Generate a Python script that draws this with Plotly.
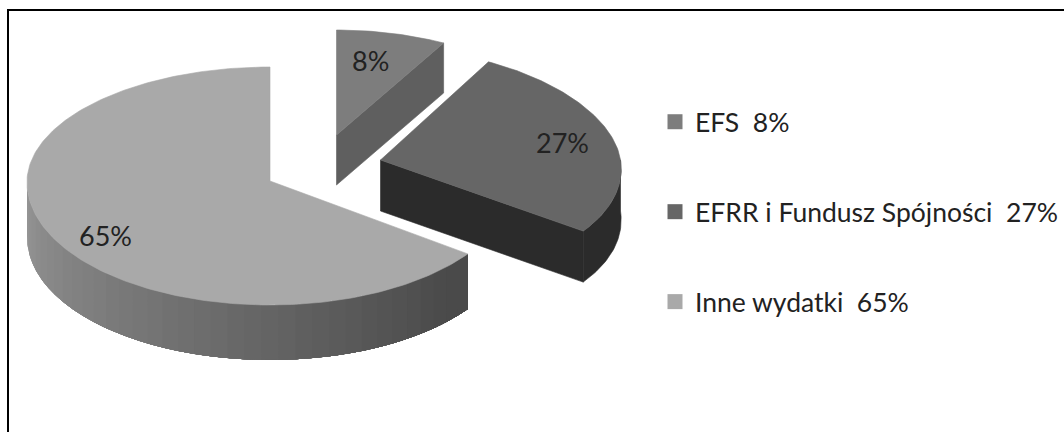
import math
import plotly.graph_objects as go

# ---- data ----
categories = ["EFS", "EFRR i Fundusz Spójności", "Inne wydatki"]
values = [8, 27, 65]

# ---- styles / layout ----
W, H = 1064, 432
TOP_COLORS = ["#7d7d7d", "#666666", "#a9a9a9"]
SIDE_COLORS = ["#5f5f5f", "#2b2b2b", None]
GEOM = [
    dict(ax=336.5, ay=135, rx=238, up=105, dn=115, k=0.075, depth=50),
    dict(ax=380.5, ay=160, rx=240, up=112, dn=121, k=0.075, depth=51),
    dict(ax=270.0, ay=181, rx=243, up=114, dn=124, k=0.01, depth=55),
]
LABEL_POS = [(370, 60), (562, 142), (105, 235)]
FONT = "Lato"
TXT = "#222222"


def rim(g, deg):
    t = math.radians(deg)
    c, s = math.cos(t), math.sin(t)
    x = g["ax"] + g["rx"] * s * (1 - g["k"] * c)
    y = g["ay"] - c * (g["up"] if c > 0 else g["dn"])
    return x, y


def arc(g, a, b, n=None):
    n = n or max(2, int(abs(b - a)))
    return [rim(g, a + (b - a) * i / n) for i in range(n + 1)]


def poly(fig, pts, color, width=0.6):
    fig.add_trace(go.Scatter(
        x=[p[0] for p in pts] + [pts[0][0]],
        y=[p[1] for p in pts] + [pts[0][1]],
        mode="lines", fill="toself", fillcolor=color,
        line=dict(color=color, width=width),
        hoverinfo="skip", showlegend=False))


fig = go.Figure()
total = sum(values)
start = 0.0
for i, v in enumerate(values):
    end = start + 360.0 * v / total
    g = GEOM[i]
    d = g["depth"]
    apex = (g["ax"], g["ay"])
    if SIDE_COLORS[i]:
        # cut face running from the apex to the end of the arc
        e = rim(g, end)
        poly(fig, [apex, e, (e[0], e[1] + d), (apex[0], apex[1] + d)], SIDE_COLORS[i])
        if end > 90:
            a = arc(g, max(start, 90), end)
            poly(fig, a + [(p[0], p[1] + d) for p in reversed(a)], SIDE_COLORS[i])
    else:
        # outer wall with a horizontal shading ramp; bands overlap so no seams show
        lo, hi = max(start, 90), 270.0
        n = 36
        for j in range(n):
            # drawn from the left (light) towards the right (dark)
            a1 = hi - (hi - lo) * j / n
            a0 = lo
            f = min(1.0, max(0.0, (a1 - 135) / 135))
            shade = int(0x4a + (0x96 - 0x4a) * f)
            col = f"rgb({shade},{shade},{shade})"
            a = arc(g, a0, a1)
            poly(fig, a + [(p[0], p[1] + d) for p in reversed(a)], col, width=0)
    poly(fig, [apex] + arc(g, start, end), TOP_COLORS[i])
    fig.add_annotation(x=LABEL_POS[i][0], y=LABEL_POS[i][1], text=f"{v}%",
                       showarrow=False, font=dict(family=FONT, size=27, color=TXT))
    start = end

# legend entries
for i, (c, v) in enumerate(zip(categories, values)):
    fig.add_trace(go.Scatter(
        x=[None], y=[None], mode="markers", name=f"{c}  {v}%", legendgroup=c,
        marker=dict(symbol="square", size=15, color=TOP_COLORS[i])))

fig.update_layout(
    width=W, height=H, margin=dict(l=0, r=0, t=0, b=0, autoexpand=False),
    paper_bgcolor="white", plot_bgcolor="white",
    xaxis=dict(range=[0, W], visible=False, fixedrange=True),
    yaxis=dict(range=[H, 0], visible=False, fixedrange=True),
    legend=dict(x=655 / W, xanchor="left", y=1 - 98 / H, yanchor="top",
                tracegroupgap=52.5, bgcolor="rgba(0,0,0,0)",
                font=dict(family=FONT, size=26.5, color=TXT)),
    shapes=[
        dict(type="line", xref="paper", yref="paper", x0=7 / W, x1=1, y0=1 - 10 / H, y1=1 - 10 / H,
             line=dict(color="black", width=2)),
        dict(type="line", xref="paper", yref="paper", x0=8 / W, x1=8 / W, y0=0, y1=1 - 10 / H,
             line=dict(color="black", width=2)),
    ],
)
fig.write_html("out.html", config={"displayModeBar": False},
               post_script="document.body.style.margin='0';document.body.style.overflow='hidden';")
